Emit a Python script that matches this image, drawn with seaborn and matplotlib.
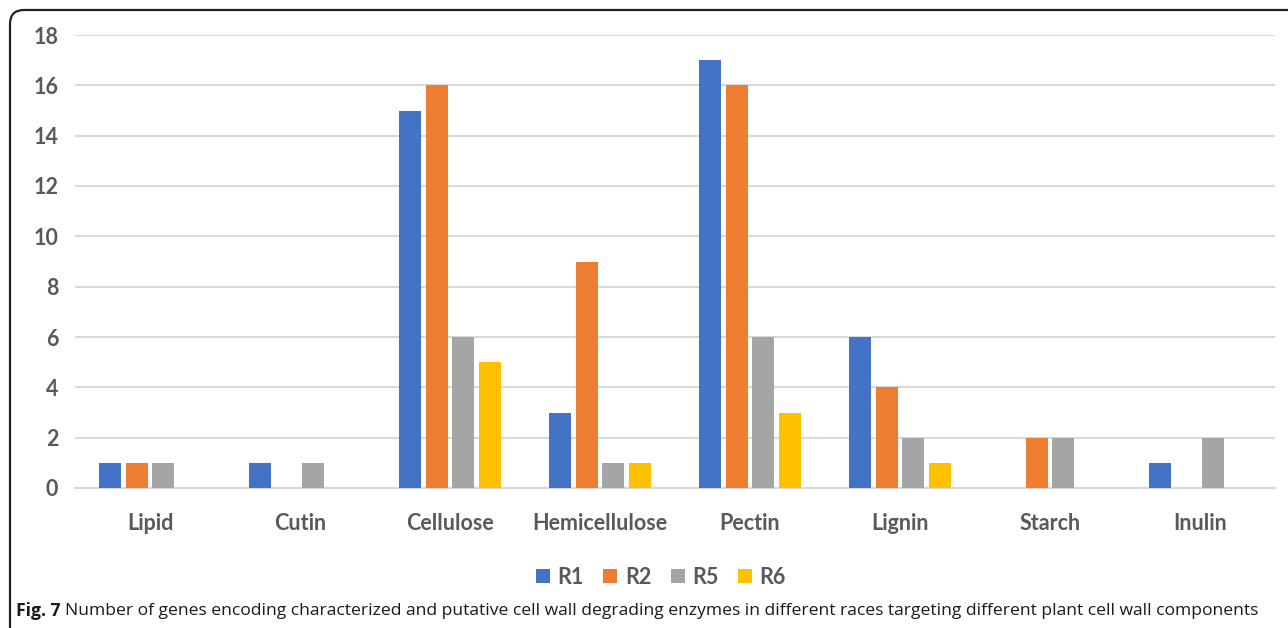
import numpy as np
import pandas as pd
import matplotlib
matplotlib.use("Agg")
import matplotlib.pyplot as plt
import seaborn as sns
from matplotlib.patches import FancyBboxPatch
from matplotlib.transforms import IdentityTransform

# ---------------- DATA ----------------
components = ['Lipid', 'Cutin', 'Cellulose', 'Hemicellulose',
              'Pectin', 'Lignin', 'Starch', 'Inulin']
races = ['R1', 'R2', 'R5', 'R6']

r1 = [1, 1, 15, 3, 17, 6, 0, 1]
r2 = [1, 0, 16, 9, 16, 4, 2, 0]
r5 = [1, 1, 6, 1, 6, 2, 2, 2]
r6 = [0, 0, 5, 1, 3, 1, 0, 0]

colors = ['#4472C4', '#ED7D31', '#A5A5A5', '#FFC000']

# long table for seaborn
rows = []
for race, vals in zip(races, [r1, r2, r5, r6]):
    for comp, v in zip(components, vals):
        rows.append({'component': comp, 'race': race, 'genes': v})
df = pd.DataFrame(rows)

# ---------------- PLOT ----------------
sns.set_style("white")
plt.rcParams['font.family'] = ['Lato', 'DejaVu Sans']

fig = plt.figure(figsize=(12.88, 6.28), dpi=100)
ax = fig.add_axes([75 / 1288, 1 - 488 / 628, 1200 / 1288, 453 / 628])

sns.barplot(data=df, x='component', y='genes', hue='race',
            order=components, hue_order=races, palette=colors,
            width=0.71, gap=0.17, linewidth=0, saturation=1,
            ax=ax, zorder=3)

ax.set_ylim(0, 18)
ax.set_xlim(-0.5, len(components) - 0.5)
ax.set_yticks(range(0, 19, 2))
ax.yaxis.grid(True, color='#d9d9d9', linewidth=1.5, zorder=0)
ax.set_axisbelow(True)
for s in ['top', 'right', 'left']:
    ax.spines[s].set_visible(False)
ax.spines['bottom'].set_color('#d9d9d9')
ax.spines['bottom'].set_linewidth(1.5)
ax.tick_params(axis='both', length=0, labelsize=15.5, colors='#595959')
ax.tick_params(axis='y', pad=12)
ax.tick_params(axis='x', pad=18)
for lab in ax.get_xticklabels() + ax.get_yticklabels():
    lab.set_fontweight('bold')
ax.set_xlabel('')
ax.set_ylabel('')

leg = ax.legend(loc='center', bbox_to_anchor=(661 / 1288, 1 - 577 / 628),
                bbox_transform=fig.transFigure, ncol=4, frameon=False,
                handlelength=0.65, handleheight=0.65, handletextpad=0.35,
                columnspacing=0.9, prop={'size': 15.5, 'weight': 'bold'})
for t in leg.get_texts():
    t.set_color('#595959')

# caption
cap_font = ['Open Sans', 'DejaVu Sans']
fig.text(16 / 1288, 1 - 611 / 628, 'Fig. 7', fontsize=12.6, fontweight='bold',
         family=cap_font, va='center', ha='left', color='#1a1a1a')
fig.text(65 / 1288, 1 - 611 / 628,
         'Number of genes encoding characterized and putative cell wall degrading '
         'enzymes in different races targeting different plant cell wall components',
         fontsize=12.6, family=cap_font, va='center', ha='left',
         color='#1a1a1a')

# rounded frame around figure
frame = FancyBboxPatch((10, -40), 1320, 658,
                       boxstyle="round,pad=0,rounding_size=14",
                       transform=IdentityTransform(), facecolor='none',
                       edgecolor='#222222', linewidth=1.6, clip_on=False)
fig.patches.append(frame)

fig.savefig('out.png', dpi=100)
